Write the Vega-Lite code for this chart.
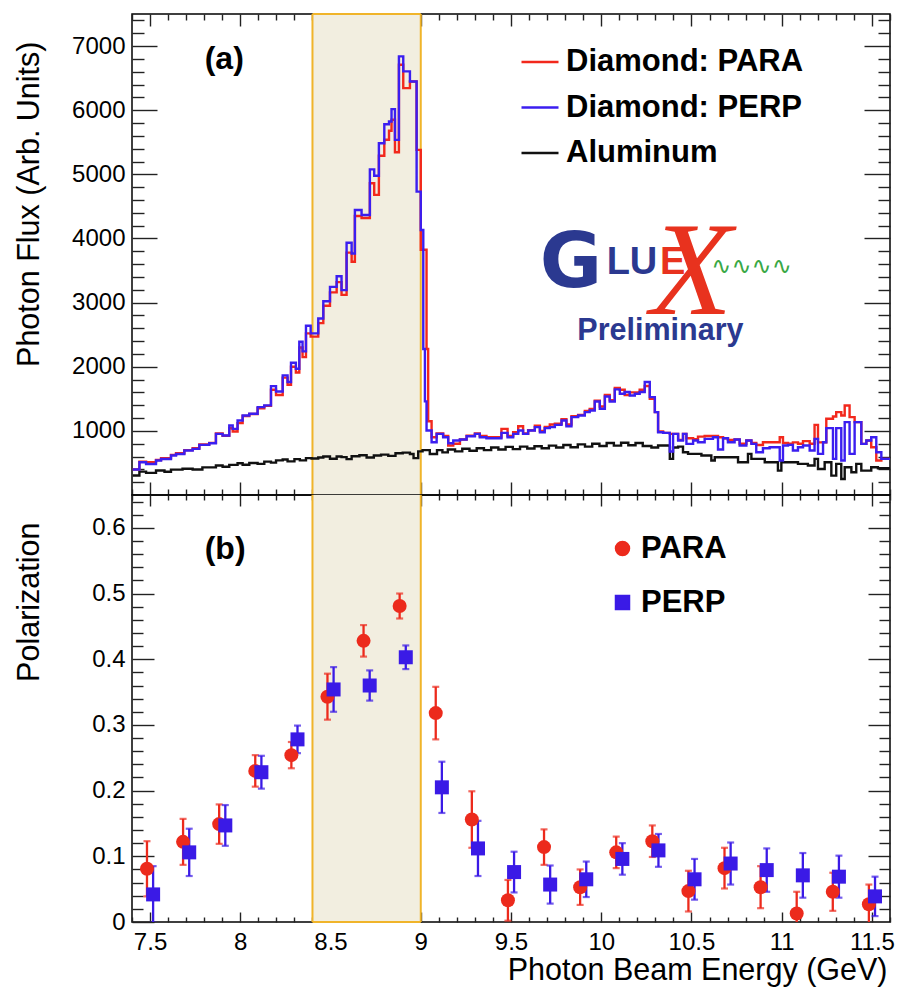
{
  "$schema": "https://vega.github.io/schema/vega-lite/v6.json",
  "background": "white",
  "padding": {"left": 13, "top": 12, "right": 4, "bottom": 2},
  "bounds": "flush",
  "spacing": 0,
  "config": {
    "font": "Liberation Sans",
    "view": {"stroke": "#000000", "strokeWidth": 1.5},
    "axis": {
      "grid": false, "domain": false, "zindex": 1,
      "tickColor": "#222222", "tickWidth": 1.4,
      "labelFont": "Liberation Sans", "labelFontSize": 24, "labelColor": "#000000",
      "labelOverlap": false, "labelFlush": false, "labelBound": false,
      "titleFont": "Liberation Sans", "titleFontSize": 30.5, "titleFontWeight": "normal", "titleColor": "#000000"
    },
    "legend": {
      "labelFont": "Liberation Sans", "labelFontWeight": "bold", "labelFontSize": 31,
      "labelColor": "#000000", "labelLimit": 0, "padding": 0, "symbolOpacity": 1
    }
  },
  "datasets": {
    "window": [{"lo": 8.4, "hi": 9.0}],
    "para": [
      {"E":7.404,"f":400},{"E":7.441,"f":520},{"E":7.478,"f":512},{"E":7.533,"f":545},{"E":7.561,"f":575},
      {"E":7.616,"f":625},{"E":7.644,"f":650},{"E":7.690,"f":700},{"E":7.736,"f":728},{"E":7.773,"f":788},
      {"E":7.828,"f":812},{"E":7.865,"f":958},{"E":7.902,"f":925},{"E":7.939,"f":1040},{"E":7.958,"f":990},
      {"E":7.985,"f":1120},{"E":8.013,"f":1232},{"E":8.050,"f":1262},{"E":8.096,"f":1352},{"E":8.133,"f":1390},
      {"E":8.170,"f":1640},{"E":8.198,"f":1560},{"E":8.235,"f":1830},{"E":8.262,"f":1720},{"E":8.281,"f":2000},
      {"E":8.308,"f":1910},{"E":8.327,"f":2300},{"E":8.345,"f":2150},{"E":8.364,"f":2520},{"E":8.390,"f":2470},
      {"E":8.432,"f":2680},{"E":8.460,"f":2950},{"E":8.497,"f":3160},{"E":8.534,"f":3320},{"E":8.561,"f":3120},
      {"E":8.589,"f":3780},{"E":8.617,"f":3636},{"E":8.635,"f":4350},{"E":8.672,"f":4320},{"E":8.718,"f":4860},
      {"E":8.742,"f":4680},{"E":8.768,"f":5290},{"E":8.798,"f":5540},{"E":8.824,"f":5680},{"E":8.838,"f":5850},
      {"E":8.857,"f":5344},{"E":8.879,"f":6709},{"E":8.903,"f":6344},{"E":8.940,"f":6448},{"E":8.977,"f":5381},
      {"E":9.000,"f":3823},{"E":9.032,"f":2277},{"E":9.041,"f":1150},{"E":9.060,"f":900},{"E":9.088,"f":960},
      {"E":9.124,"f":920},{"E":9.152,"f":771},{"E":9.180,"f":800},{"E":9.217,"f":865},{"E":9.254,"f":925},
      {"E":9.300,"f":960},{"E":9.327,"f":920},{"E":9.364,"f":900},{"E":9.447,"f":1031},{"E":9.481,"f":920},
      {"E":9.512,"f":980},{"E":9.540,"f":1073},{"E":9.567,"f":960},{"E":9.595,"f":1010},{"E":9.632,"f":1080},
      {"E":9.660,"f":1000},{"E":9.687,"f":1060},{"E":9.715,"f":1100},{"E":9.743,"f":1110},{"E":9.780,"f":1180},
      {"E":9.807,"f":1100},{"E":9.835,"f":1230},{"E":9.872,"f":1250},{"E":9.909,"f":1310},{"E":9.936,"f":1340},
      {"E":9.964,"f":1470},{"E":9.992,"f":1380},{"E":10.020,"f":1560},{"E":10.047,"f":1480},{"E":10.075,"f":1670},
      {"E":10.103,"f":1640},{"E":10.130,"f":1560},{"E":10.158,"f":1600},{"E":10.186,"f":1600},{"E":10.213,"f":1640},
      {"E":10.241,"f":1700},{"E":10.269,"f":1500},{"E":10.297,"f":1292},{"E":10.315,"f":990},{"E":10.343,"f":969},
      {"E":10.380,"f":953},{"E":10.426,"f":860},{"E":10.453,"f":953},{"E":10.472,"f":885},{"E":10.509,"f":870},
      {"E":10.536,"f":910},{"E":10.573,"f":920},{"E":10.647,"f":900},{"E":10.675,"f":885},{"E":10.702,"f":860},
      {"E":10.739,"f":865},{"E":10.767,"f":800},{"E":10.804,"f":849},{"E":10.832,"f":810},{"E":10.859,"f":780},
      {"E":10.896,"f":823},{"E":10.989,"f":901},{"E":11.007,"f":810},{"E":11.035,"f":800},{"E":11.062,"f":820},
      {"E":11.090,"f":800},{"E":11.118,"f":840},{"E":11.155,"f":800},{"E":11.182,"f":1094},{"E":11.201,"f":820},
      {"E":11.229,"f":823},{"E":11.247,"f":1188},{"E":11.284,"f":1224},{"E":11.302,"f":1292},{"E":11.330,"f":1240},
      {"E":11.349,"f":1396},{"E":11.376,"f":1214},{"E":11.404,"f":1136},{"E":11.441,"f":797},{"E":11.469,"f":849},
      {"E":11.496,"f":745},{"E":11.524,"f":537},{"E":11.552,"f":563},{"E":11.600,"f":563}
    ],
    "perp": [
      {"E":7.404,"f":397},{"E":7.441,"f":511},{"E":7.478,"f":484},{"E":7.533,"f":537},{"E":7.561,"f":562},
      {"E":7.616,"f":615},{"E":7.644,"f":640},{"E":7.690,"f":694},{"E":7.736,"f":719},{"E":7.773,"f":781},
      {"E":7.828,"f":808},{"E":7.865,"f":953},{"E":7.902,"f":928},{"E":7.939,"f":1084},{"E":7.958,"f":1031},
      {"E":7.985,"f":1162},{"E":8.013,"f":1240},{"E":8.050,"f":1266},{"E":8.096,"f":1370},{"E":8.133,"f":1397},
      {"E":8.170,"f":1698},{"E":8.198,"f":1615},{"E":8.235,"f":1865},{"E":8.262,"f":1761},{"E":8.281,"f":2063},
      {"E":8.308,"f":1969},{"E":8.327,"f":2390},{"E":8.345,"f":2240},{"E":8.364,"f":2640},{"E":8.390,"f":2520},
      {"E":8.432,"f":2751},{"E":8.460,"f":3022},{"E":8.497,"f":3245},{"E":8.534,"f":3412},{"E":8.561,"f":3194},
      {"E":8.589,"f":3933},{"E":8.617,"f":3766},{"E":8.635,"f":4443},{"E":8.672,"f":4365},{"E":8.718,"f":5078},
      {"E":8.742,"f":4979},{"E":8.768,"f":5484},{"E":8.798,"f":5781},{"E":8.824,"f":5823},{"E":8.838,"f":6016},
      {"E":8.857,"f":5537},{"E":8.879,"f":6839},{"E":8.903,"f":6605},{"E":8.940,"f":6448},{"E":8.977,"f":4730},
      {"E":9.000,"f":4131},{"E":9.014,"f":2277},{"E":9.023,"f":1460},{"E":9.032,"f":1006},{"E":9.060,"f":823},
      {"E":9.088,"f":953},{"E":9.124,"f":901},{"E":9.152,"f":807},{"E":9.180,"f":849},{"E":9.217,"f":865},
      {"E":9.254,"f":917},{"E":9.300,"f":953},{"E":9.327,"f":901},{"E":9.364,"f":885},{"E":9.447,"f":969},
      {"E":9.481,"f":901},{"E":9.512,"f":953},{"E":9.540,"f":1005},{"E":9.567,"f":953},{"E":9.595,"f":1005},
      {"E":9.632,"f":1058},{"E":9.660,"f":979},{"E":9.687,"f":1042},{"E":9.715,"f":1058},{"E":9.743,"f":1094},
      {"E":9.780,"f":1162},{"E":9.807,"f":1073},{"E":9.835,"f":1214},{"E":9.872,"f":1240},{"E":9.909,"f":1292},
      {"E":9.936,"f":1318},{"E":9.964,"f":1459},{"E":9.992,"f":1344},{"E":10.020,"f":1537},{"E":10.047,"f":1459},
      {"E":10.075,"f":1647},{"E":10.103,"f":1578},{"E":10.130,"f":1605},{"E":10.158,"f":1552},{"E":10.186,"f":1578},
      {"E":10.213,"f":1605},{"E":10.241,"f":1761},{"E":10.269,"f":1526},{"E":10.297,"f":1292},{"E":10.315,"f":979},
      {"E":10.343,"f":969},{"E":10.380,"f":678},{"E":10.398,"f":953},{"E":10.426,"f":849},{"E":10.453,"f":953},
      {"E":10.472,"f":797},{"E":10.509,"f":849},{"E":10.536,"f":823},{"E":10.573,"f":875},{"E":10.619,"f":901},
      {"E":10.647,"f":709},{"E":10.675,"f":885},{"E":10.702,"f":823},{"E":10.739,"f":865},{"E":10.767,"f":771},
      {"E":10.804,"f":849},{"E":10.832,"f":797},{"E":10.859,"f":667},{"E":10.896,"f":729},{"E":10.933,"f":745},
      {"E":10.989,"f":537},{"E":11.007,"f":771},{"E":11.035,"f":781},{"E":11.062,"f":693},{"E":11.090,"f":745},
      {"E":11.118,"f":771},{"E":11.155,"f":693},{"E":11.182,"f":875},{"E":11.201,"f":641},{"E":11.229,"f":823},
      {"E":11.247,"f":1042},{"E":11.284,"f":563},{"E":11.302,"f":1042},{"E":11.330,"f":537},{"E":11.349,"f":1136},
      {"E":11.376,"f":641},{"E":11.404,"f":1136},{"E":11.441,"f":797},{"E":11.469,"f":849},{"E":11.496,"f":901},
      {"E":11.524,"f":667},{"E":11.552,"f":563},{"E":11.600,"f":563}
    ],
    "aluminum": [
      {"E":7.404,"f":303},{"E":7.441,"f":365},{"E":7.478,"f":345},{"E":7.533,"f":381},{"E":7.580,"f":362},
      {"E":7.616,"f":395},{"E":7.680,"f":410},{"E":7.736,"f":398},{"E":7.790,"f":430},{"E":7.865,"f":459},
      {"E":7.902,"f":440},{"E":7.939,"f":470},{"E":7.985,"f":495},{"E":8.013,"f":472},{"E":8.050,"f":500},
      {"E":8.096,"f":485},{"E":8.133,"f":521},{"E":8.170,"f":505},{"E":8.198,"f":540},{"E":8.235,"f":553},
      {"E":8.262,"f":525},{"E":8.300,"f":560},{"E":8.330,"f":540},{"E":8.364,"f":575},{"E":8.395,"f":570},
      {"E":8.432,"f":585},{"E":8.460,"f":600},{"E":8.497,"f":565},{"E":8.534,"f":600},{"E":8.561,"f":590},
      {"E":8.589,"f":560},{"E":8.617,"f":605},{"E":8.660,"f":620},{"E":8.700,"f":585},{"E":8.740,"f":615},
      {"E":8.780,"f":630},{"E":8.820,"f":610},{"E":8.860,"f":650},{"E":8.900,"f":660},{"E":8.940,"f":640},
      {"E":8.960,"f":575},{"E":8.986,"f":680},{"E":9.010,"f":700},{"E":9.050,"f":640},{"E":9.090,"f":700},
      {"E":9.120,"f":665},{"E":9.150,"f":710},{"E":9.190,"f":680},{"E":9.230,"f":720},{"E":9.270,"f":690},
      {"E":9.310,"f":730},{"E":9.350,"f":700},{"E":9.390,"f":740},{"E":9.430,"f":710},{"E":9.470,"f":750},
      {"E":9.510,"f":715},{"E":9.550,"f":755},{"E":9.590,"f":725},{"E":9.630,"f":760},{"E":9.670,"f":730},
      {"E":9.710,"f":770},{"E":9.750,"f":740},{"E":9.790,"f":780},{"E":9.830,"f":745},{"E":9.870,"f":790},
      {"E":9.910,"f":755},{"E":9.950,"f":800},{"E":9.990,"f":765},{"E":10.030,"f":810},{"E":10.070,"f":770},
      {"E":10.110,"f":815},{"E":10.150,"f":775},{"E":10.190,"f":810},{"E":10.230,"f":765},{"E":10.278,"f":740},
      {"E":10.315,"f":771},{"E":10.380,"f":563},{"E":10.398,"f":740},{"E":10.426,"f":755},{"E":10.453,"f":667},
      {"E":10.481,"f":641},{"E":10.555,"f":615},{"E":10.610,"f":537},{"E":10.629,"f":589},{"E":10.758,"f":510},
      {"E":10.813,"f":641},{"E":10.832,"f":563},{"E":10.906,"f":510},{"E":10.979,"f":380},{"E":10.998,"f":510},
      {"E":11.090,"f":485},{"E":11.145,"f":459},{"E":11.182,"f":563},{"E":11.201,"f":406},{"E":11.238,"f":510},
      {"E":11.275,"f":302},{"E":11.302,"f":485},{"E":11.330,"f":250},{"E":11.349,"f":432},{"E":11.386,"f":354},
      {"E":11.413,"f":485},{"E":11.441,"f":380},{"E":11.496,"f":432},{"E":11.533,"f":416},{"E":11.600,"f":416}
    ],
    "polarization": [
      {"pol":"PARA","E":7.483,"P":0.081,"dP":0.042},{"pol":"PARA","E":7.683,"P":0.122,"dP":0.035},
      {"pol":"PARA","E":7.883,"P":0.149,"dP":0.030},{"pol":"PARA","E":8.083,"P":0.230,"dP":0.024},
      {"pol":"PARA","E":8.283,"P":0.254,"dP":0.020},{"pol":"PARA","E":8.483,"P":0.343,"dP":0.035},
      {"pol":"PARA","E":8.683,"P":0.428,"dP":0.024},{"pol":"PARA","E":8.883,"P":0.481,"dP":0.019},
      {"pol":"PARA","E":9.083,"P":0.318,"dP":0.040},{"pol":"PARA","E":9.283,"P":0.156,"dP":0.043},
      {"pol":"PARA","E":9.483,"P":0.033,"dP":0.031},{"pol":"PARA","E":9.683,"P":0.114,"dP":0.027},
      {"pol":"PARA","E":9.883,"P":0.053,"dP":0.027},{"pol":"PARA","E":10.083,"P":0.106,"dP":0.024},
      {"pol":"PARA","E":10.283,"P":0.123,"dP":0.024},{"pol":"PARA","E":10.483,"P":0.047,"dP":0.031},
      {"pol":"PARA","E":10.683,"P":0.082,"dP":0.031},{"pol":"PARA","E":10.883,"P":0.053,"dP":0.032},
      {"pol":"PARA","E":11.083,"P":0.013,"dP":0.033},{"pol":"PARA","E":11.283,"P":0.046,"dP":0.029},
      {"pol":"PARA","E":11.483,"P":0.027,"dP":0.030},
      {"pol":"PERP","E":7.517,"P":0.042,"dP":0.043},{"pol":"PERP","E":7.717,"P":0.106,"dP":0.036},
      {"pol":"PERP","E":7.917,"P":0.147,"dP":0.031},{"pol":"PERP","E":8.117,"P":0.228,"dP":0.025},
      {"pol":"PERP","E":8.317,"P":0.278,"dP":0.021},{"pol":"PERP","E":8.517,"P":0.354,"dP":0.034},
      {"pol":"PERP","E":8.717,"P":0.360,"dP":0.023},{"pol":"PERP","E":8.917,"P":0.403,"dP":0.018},
      {"pol":"PERP","E":9.117,"P":0.205,"dP":0.039},{"pol":"PERP","E":9.317,"P":0.112,"dP":0.042},
      {"pol":"PERP","E":9.517,"P":0.076,"dP":0.031},{"pol":"PERP","E":9.717,"P":0.057,"dP":0.029},
      {"pol":"PERP","E":9.917,"P":0.065,"dP":0.027},{"pol":"PERP","E":10.117,"P":0.096,"dP":0.024},
      {"pol":"PERP","E":10.317,"P":0.109,"dP":0.025},{"pol":"PERP","E":10.517,"P":0.065,"dP":0.031},
      {"pol":"PERP","E":10.717,"P":0.089,"dP":0.032},{"pol":"PERP","E":10.917,"P":0.079,"dP":0.033},
      {"pol":"PERP","E":11.117,"P":0.071,"dP":0.034},{"pol":"PERP","E":11.317,"P":0.069,"dP":0.032},
      {"pol":"PERP","E":11.517,"P":0.039,"dP":0.030}
    ]
  },
  "resolve": {
    "scale": {"color": "independent", "shape": "independent"},
    "legend": {"color": "independent", "shape": "independent"}
  },
  "vconcat": [
    {
      "width": 758,
      "height": 481,
      "resolve": {"axis": {"x": "independent", "y": "independent"}},
      "layer": [
        {
          "data": {"name": "window"},
          "mark": {"type": "rect", "color": "#f2eee0"},
          "encoding": {
            "x": {"field": "lo", "type": "quantitative", "scale": {"domain": [7.4, 11.6], "nice": false, "zero": false}, "axis": null},
            "x2": {"field": "hi"}
          }
        },
        {
          "data": {"name": "window"},
          "transform": [{"fold": ["lo", "hi"], "as": ["edge", "E"]}],
          "mark": {"type": "rule", "color": "#f0b42a", "strokeWidth": 2},
          "encoding": {"x": {"field": "E", "type": "quantitative", "axis": null}}
        },
        {
          "data": {"name": "window"},
          "mark": {"type": "rule", "color": "#f0b42a", "strokeWidth": 2},
          "encoding": {
            "x": {"field": "lo", "type": "quantitative", "axis": {"orient": "bottom", "values": [7.4,7.6,7.7,7.8,7.9,8.1,8.2,8.3,8.4,8.6,8.7,8.8,8.9,9.1,9.2,9.3,9.4,9.6,9.7,9.8,9.9,10.1,10.2,10.3,10.4,10.6,10.7,10.8,10.9,11.1,11.2,11.3,11.4,11.6], "tickSize": -6, "labels": false, "title": null}},
            "x2": {"field": "hi"},
            "y": {"datum": 7500, "type": "quantitative", "scale": {"domain": [0, 7500], "nice": false, "zero": false}, "axis": {"orient": "left", "values": [200,400,600,800,1200,1400,1600,1800,2200,2400,2600,2800,3200,3400,3600,3800,4200,4400,4600,4800,5200,5400,5600,5800,6200,6400,6600,6800,7200,7400], "tickSize": -12, "labels": false, "title": null}}
          }
        },
        {
          "data": {"name": "aluminum"},
          "mark": {"type": "line", "interpolate": "step-after", "strokeWidth": 2.4, "clip": true},
          "encoding": {
            "x": {"field": "E", "type": "quantitative", "axis": {"orient": "bottom", "values": [7.5,8,8.5,9,9.5,10,10.5,11,11.5], "tickSize": -13, "labels": false, "title": null}},
            "y": {"field": "f", "type": "quantitative", "axis": {"orient": "left", "values": [1000,2000,3000,4000,5000,6000,7000], "format": "d", "tickSize": -25, "labelPadding": 32, "title": "Photon Flux (Arb. Units)", "titleX": -94, "titleY": 27, "titleAngle": 270, "titleAlign": "right", "titleBaseline": "alphabetic"}},
            "color": {
              "datum": "Aluminum",
              "scale": {"domain": ["Diamond: PARA", "Diamond: PERP", "Aluminum"], "range": ["#f2281c", "#3b1ef0", "#111111"]},
              "legend": {"orient": "none", "legendX": 388, "legendY": 28, "title": null, "symbolType": "stroke", "symbolSize": 1369, "symbolStrokeWidth": 2.5, "labelOffset": 6, "rowPadding": 10.5}
            }
          }
        },
        {
          "data": {"name": "para"},
          "mark": {"type": "line", "interpolate": "step-after", "strokeWidth": 2.4, "clip": true},
          "encoding": {
            "x": {"field": "E", "type": "quantitative", "axis": {"orient": "top", "values": [7.5,8,8.5,9,9.5,10,10.5,11,11.5], "tickSize": -12, "labels": false, "title": null}},
            "y": {"field": "f", "type": "quantitative", "axis": {"orient": "right", "values": [1000,2000,3000,4000,5000,6000,7000], "tickSize": -26, "labels": false, "title": null}},
            "color": {"datum": "Diamond: PARA"}
          }
        },
        {
          "data": {"name": "perp"},
          "mark": {"type": "line", "interpolate": "step-after", "strokeWidth": 2.4, "clip": true},
          "encoding": {
            "x": {"field": "E", "type": "quantitative", "axis": {"orient": "top", "values": [7.4,7.6,7.7,7.8,7.9,8.1,8.2,8.3,8.4,8.6,8.7,8.8,8.9,9.1,9.2,9.3,9.4,9.6,9.7,9.8,9.9,10.1,10.2,10.3,10.4,10.6,10.7,10.8,10.9,11.1,11.2,11.3,11.4,11.6], "tickSize": -6, "labels": false, "title": null}},
            "y": {"field": "f", "type": "quantitative", "axis": {"orient": "right", "values": [200,400,600,800,1200,1400,1600,1800,2200,2400,2600,2800,3200,3400,3600,3800,4200,4400,4600,4800,5200,5400,5600,5800,6200,6400,6600,6800,7200,7400], "tickSize": -12, "labels": false, "title": null}},
            "color": {"datum": "Diamond: PERP"}
          }
        },
        {
          "data": {"values": [{}]},
          "mark": {"type": "text", "text": "(a)", "font": "Liberation Sans", "fontWeight": "bold", "fontSize": 32, "align": "center", "baseline": "alphabetic", "color": "#000000"},
          "encoding": {"x": {"datum": 7.911, "type": "quantitative", "axis": null}, "y": {"datum": 6636, "type": "quantitative", "axis": null}}
        },
        {
          "data": {"values": [{}]},
          "mark": {"type": "text", "text": "G", "font": "DejaVu Sans", "fontWeight": "bold", "fontSize": 76, "align": "center", "baseline": "alphabetic", "color": "#2b3990"},
          "encoding": {"x": {"datum": 9.832, "type": "quantitative", "axis": null}, "y": {"datum": 3242, "type": "quantitative", "axis": null}}
        },
        {
          "data": {"values": [{}]},
          "mark": {"type": "text", "text": "LU", "font": "Liberation Sans", "fontWeight": "bold", "fontSize": 38, "align": "left", "baseline": "alphabetic", "color": "#2b3990"},
          "encoding": {"x": {"datum": 10.03, "type": "quantitative", "axis": null}, "y": {"datum": 3453, "type": "quantitative", "axis": null}}
        },
        {
          "data": {"values": [{}]},
          "mark": {"type": "text", "text": "E", "font": "Liberation Sans", "fontWeight": "bold", "fontSize": 38, "align": "left", "baseline": "alphabetic", "color": "#e8321e"},
          "encoding": {"x": {"datum": 10.325, "type": "quantitative", "axis": null}, "y": {"datum": 3453, "type": "quantitative", "axis": null}}
        },
        {
          "data": {"values": [{}]},
          "mark": {"type": "text", "text": "X", "font": "Liberation Serif", "fontStyle": "italic", "fontSize": 134, "align": "center", "baseline": "alphabetic", "color": "#e8321e"},
          "encoding": {"x": {"datum": 10.5, "type": "quantitative", "axis": null}, "y": {"datum": 2823, "type": "quantitative", "axis": null}}
        },
        {
          "data": {"values": [{}]},
          "mark": {"type": "text", "text": "∿∿∿∿", "font": "DejaVu Sans", "fontSize": 24, "align": "left", "baseline": "middle", "color": "#39a845"},
          "encoding": {"x": {"datum": 10.61, "type": "quantitative", "axis": null}, "y": {"datum": 3558, "type": "quantitative", "axis": null}}
        },
        {
          "data": {"values": [{}]},
          "mark": {"type": "text", "text": "Preliminary", "font": "Liberation Sans", "fontWeight": "bold", "fontSize": 30.5, "align": "center", "baseline": "alphabetic", "color": "#2b3990"},
          "encoding": {"x": {"datum": 10.328, "type": "quantitative", "axis": null}, "y": {"datum": 2417, "type": "quantitative", "axis": null}}
        }
      ]
    },
    {
      "width": 758,
      "height": 427,
      "resolve": {"axis": {"x": "independent", "y": "independent"}},
      "layer": [
        {
          "data": {"name": "window"},
          "mark": {"type": "rect", "color": "#f2eee0"},
          "encoding": {
            "x": {"field": "lo", "type": "quantitative", "scale": {"domain": [7.4, 11.6], "nice": false, "zero": false}, "axis": {"orient": "top", "values": [7.4,7.6,7.7,7.8,7.9,8.1,8.2,8.3,8.4,8.6,8.7,8.8,8.9,9.1,9.2,9.3,9.4,9.6,9.7,9.8,9.9,10.1,10.2,10.3,10.4,10.6,10.7,10.8,10.9,11.1,11.2,11.3,11.4,11.6], "tickSize": -5, "labels": false, "title": null}},
            "x2": {"field": "hi"},
            "y": {"datum": 0, "type": "quantitative", "scale": {"domain": [0, 0.65], "nice": false, "zero": false}, "axis": {"orient": "right", "values": [0.02,0.04,0.06,0.08,0.12,0.14,0.16,0.18,0.22,0.24,0.26,0.28,0.32,0.34,0.36,0.38,0.42,0.44,0.46,0.48,0.52,0.54,0.56,0.58,0.62,0.64], "tickSize": -11, "labels": false, "title": null}},
            "y2": {"datum": 0.65}
          }
        },
        {
          "data": {"name": "window"},
          "transform": [{"fold": ["lo", "hi"], "as": ["edge", "E"]}],
          "mark": {"type": "rule", "color": "#f0b42a", "strokeWidth": 2},
          "encoding": {"x": {"field": "E", "type": "quantitative", "axis": null}}
        },
        {
          "data": {"name": "window"},
          "mark": {"type": "rule", "color": "#f0b42a", "strokeWidth": 2},
          "encoding": {
            "x": {"field": "lo", "type": "quantitative", "axis": {"orient": "bottom", "values": [7.4,7.6,7.7,7.8,7.9,8.1,8.2,8.3,8.4,8.6,8.7,8.8,8.9,9.1,9.2,9.3,9.4,9.6,9.7,9.8,9.9,10.1,10.2,10.3,10.4,10.6,10.7,10.8,10.9,11.1,11.2,11.3,11.4,11.6], "tickSize": -5, "labels": false, "title": null}},
            "x2": {"field": "hi"},
            "y": {"datum": 0, "type": "quantitative", "axis": {"orient": "left", "values": [0.02,0.04,0.06,0.08,0.12,0.14,0.16,0.18,0.22,0.24,0.26,0.28,0.32,0.34,0.36,0.38,0.42,0.44,0.46,0.48,0.52,0.54,0.56,0.58,0.62,0.64], "tickSize": -11, "labels": false, "title": null}}
          }
        },
        {
          "data": {"name": "polarization"},
          "mark": {"type": "errorbar", "ticks": {"size": 7, "thickness": 2.2}, "rule": {"strokeWidth": 2.3}, "clip": true},
          "encoding": {
            "x": {"field": "E", "type": "quantitative", "axis": null},
            "y": {"field": "P", "type": "quantitative", "axis": null},
            "yError": {"field": "dP"},
            "color": {"field": "pol", "type": "nominal"}
          }
        },
        {
          "data": {"name": "polarization"},
          "mark": {"type": "point", "filled": true, "opacity": 1, "size": 196},
          "encoding": {
            "x": {"field": "E", "type": "quantitative", "axis": {"orient": "bottom", "values": [7.5,8,8.5,9,9.5,10,10.5,11,11.5], "format": "~g", "tickSize": -10, "labelPadding": 18, "title": "Photon Beam Energy (GeV)", "titleX": 755, "titleY": 57, "titleAngle": 0, "titleAlign": "right", "titleBaseline": "alphabetic"}},
            "y": {"field": "P", "type": "quantitative", "axis": {"orient": "left", "values": [0,0.1,0.2,0.3,0.4,0.5,0.6], "format": ".1~f", "tickSize": -22, "labelPadding": 29, "title": "Polarization", "titleX": -94, "titleY": 27, "titleAngle": 270, "titleAlign": "right", "titleBaseline": "alphabetic"}},
            "color": {
              "field": "pol", "type": "nominal",
              "scale": {"domain": ["PARA", "PERP"], "range": ["#ec2a1c", "#3a1ae6"]},
              "legend": {"orient": "none", "legendX": 475, "legendY": 38, "title": null, "symbolSize": 196, "symbolType": "circle", "symbolOpacity": 1, "labelOffset": 3, "rowPadding": 22}
            },
            "shape": {
              "field": "pol", "type": "nominal",
              "scale": {"domain": ["PARA", "PERP"], "range": ["circle", "square"]},
              "legend": {"orient": "none", "legendX": 475, "legendY": 38, "title": null, "symbolSize": 196, "symbolOpacity": 1, "labelOffset": 3, "rowPadding": 22}
            }
          }
        },
        {
          "data": {"values": [{}]},
          "mark": {"type": "text", "text": "(b)", "font": "Liberation Sans", "fontWeight": "bold", "fontSize": 32, "align": "center", "baseline": "alphabetic", "color": "#000000"},
          "encoding": {
            "x": {"datum": 7.916, "type": "quantitative", "axis": {"orient": "top", "values": [7.5,8,8.5,9,9.5,10,10.5,11,11.5], "tickSize": -11, "labels": false, "title": null}},
            "y": {"datum": 0.552, "type": "quantitative", "axis": {"orient": "right", "values": [0.1,0.2,0.3,0.4,0.5,0.6], "tickSize": -22, "labels": false, "title": null}}
          }
        }
      ]
    }
  ]
}
